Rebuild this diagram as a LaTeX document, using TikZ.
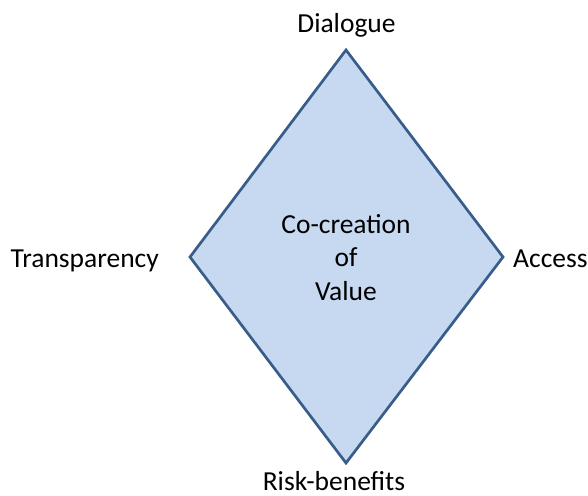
\documentclass[tikz,border=0pt]{standalone}
\usepackage{fontspec}
\setmainfont{Carlito}
\begin{document}
\begin{tikzpicture}[x=1pt,y=-1pt,
  lbl/.style={font=\fontsize{27.5}{33.5}\selectfont, inner sep=0pt, text=black},
  dia/.style={draw={rgb,255:red,56;green,93;blue,138}, fill={rgb,255:red,198;green,217;blue,241}, line width=2.7pt, line join=miter}]
\useasboundingbox (0,0) rectangle (588,495);
\coordinate (T) at (346,50);
\coordinate (R) at (503,257);
\coordinate (B) at (346,463);
\coordinate (L) at (190,257);
\draw[dia] (T) -- (R) -- (B) -- (L) -- cycle;
\node[lbl, align=center, anchor=base] (c) at (346,300) {Co-creation\\of\\Value};
\node[lbl, anchor=base] (d) at (346.5,33) {Dialogue};
\node[lbl, anchor=base east] (t) at (159,267) {Transparency};
\node[lbl, anchor=base west] (a) at (513,267) {Access};
\node[lbl, anchor=base, text depth=0pt] (r) at (334,490) {Risk-benefits};
\end{tikzpicture}
\end{document}
